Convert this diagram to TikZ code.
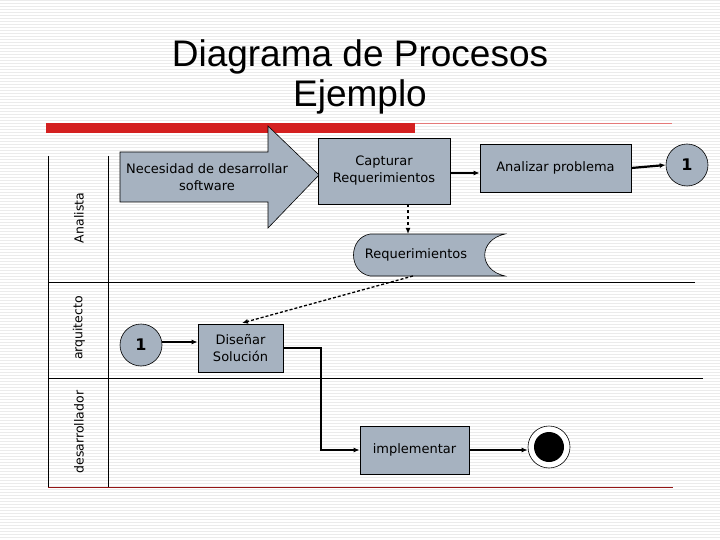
\documentclass[tikz,border=0pt]{standalone}
\usepackage{fontspec}
\setmainfont{DejaVu Sans}
\newfontfamily\titlefont{Liberation Sans}
\usetikzlibrary{arrows.meta,shapes.geometric}
\definecolor{boxfill}{HTML}{A6B2C0}
\definecolor{redbar}{HTML}{D42020}
\tikzset{
  txt/.style={font=\fontsize{13}{17}\selectfont,align=center},
  proc/.style={draw=black,fill=boxfill,line width=0.7pt,inner sep=0pt,txt},
  conn/.style={line width=2.2pt,-{Latex[length=6pt,width=5pt]}},
  lbl/.style={rotate=90,font=\fontsize{12.5}{14}\selectfont},
  cir/.style={draw=black,fill=boxfill,circle,line width=0.6pt,minimum size=42pt,font=\fontsize{16}{16}\selectfont\bfseries},
}
\begin{document}
\begin{tikzpicture}[x=1pt,y=-1pt]
\useasboundingbox (0,0) rectangle (720,540);
\fill[white] (0,0) rectangle (720,540);
\foreach \i in {0,3,...,540} \draw[gray!16,line width=0.8pt] (0,\i) -- (720,\i);
% title
\node[font=\titlefont\fontsize{37}{40}\selectfont,align=center] (title) at (360,77) {Diagrama de Procesos\\Ejemplo};
\fill[redbar] (46,123) rectangle (415,133);
\draw[redbar!60,line width=0.6pt] (415,123.5) -- (672,123.5);
% lanes
\draw[line width=0.6pt] (48,156) -- (48,487);
\draw[redbar!70!black,line width=0.6pt] (48,487) -- (673,487);
\draw[line width=0.6pt] (108,156) -- (108,487);
\draw[line width=0.6pt] (48,282) -- (695,282);
\draw[line width=0.6pt] (48,378) -- (703,378);
\node[lbl] (l1) at (79,218) {Analista};
\node[lbl] (l2) at (79,328) {arquitecto};
\node[lbl] (l3) at (79,432) {desarrollador};
% big arrow
\draw[fill=boxfill,line width=0.6pt] (120,152) -- (268,152) -- (268,126) -- (319,175) -- (268,228) -- (268,202) -- (120,202) -- cycle;
\node[txt] (nec) at (207,177) {Necesidad de desarrollar\\software};
% boxes
\node[proc,minimum width=132pt,minimum height=66pt] (cap) at (384,171) {Capturar\\Requerimientos};
\node[proc,minimum width=151pt,minimum height=48pt] (ana) at (555.5,168) {Analizar problema};
\node[cir] (c1) at (687,165) {1};
\draw[conn] (cap.east |- 0,173) -- (ana.west |- 0,173);
\draw[conn] (ana.east) -- (c1.west);
% requerimientos store
\draw[fill=boxfill,line width=0.6pt] (370,234) -- (505,234) .. controls (478,240) and (478,270) .. (505,276) -- (370,276) .. controls (348,272) and (348,238) .. (370,234) -- cycle;
\node[txt] (req) at (416,255) {Requerimientos};
\coordinate (reqtop) at (408,234);
\coordinate (reqbot) at (413,276);
\draw[line width=1.4pt,dashed,-{Latex[length=6pt,width=5pt]}] (cap.south -| reqtop) -- (reqtop);
% arquitecto
\node[cir] (c2) at (141,345) {1};
\node[proc,minimum width=85pt,minimum height=48pt] (dis) at (240.5,348) {Diseñar\\Solución};
\coordinate (disin) at (242,323);
\draw[line width=1.3pt,densely dashed,-{Latex[length=6pt,width=5pt]}] (reqbot) -- (disin);
\draw[conn] (c2.east |- 0,342) -- (dis.west |- 0,342);
% desarrollador
\node[proc,minimum width=109pt,minimum height=48pt] (imp) at (414.5,450) {implementar};
\draw[conn] (dis.east) -- (321,348) -- (321,450) -- (imp.west);
\node[circle,draw=black,fill=white,line width=0.6pt,minimum size=42pt] (fin) at (549,447) {};
\fill[black] (fin.center) circle (15);
\draw[conn] (imp.east) -- (fin.west |- imp.east);
\end{tikzpicture}
\end{document}
